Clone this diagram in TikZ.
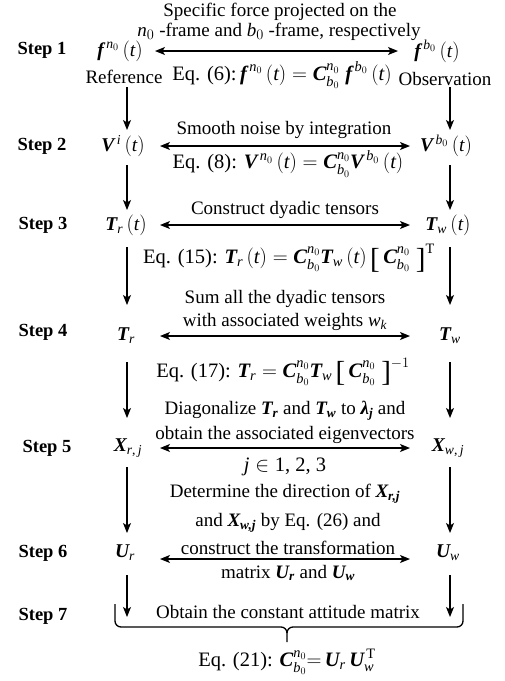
\documentclass[tikz,border=0pt]{standalone}
\usepackage{amsmath}
\usepackage{fontspec}
\setmainfont{Liberation Serif}
\DeclareSymbolFont{letters}{TU}{\rmdefault}{m}{it}
\usetikzlibrary{arrows.meta,calc}
\newcommand{\bv}[1]{\text{\normalfont\bfseries\itshape #1}}
\newcommand{\lbrk}{\mathopen{\raisebox{-0.24em}{\fontsize{29}{29}\selectfont[}}}
\newcommand{\rbrk}{\mathclose{\raisebox{-0.24em}{\fontsize{29}{29}\selectfont]}}}
\begin{document}
\begin{tikzpicture}[x=1pt,y=-1pt,
  every node/.style={inner sep=0pt,outer sep=0pt},
  font=\fontsize{19}{22}\selectfont,
  steplbl/.style={font=\fontsize{18.5}{21}\selectfont\bfseries},
  eqn/.style={font=\fontsize{19.5}{22}\selectfont},
  eqb/.style={font=\fontsize{20.5}{22}\selectfont},
  arr/.style={-{Stealth[length=10pt,width=8pt,inset=2.5pt]},line width=1.3pt},
  dbl/.style={{Stealth[length=10pt,width=8pt,inset=2.5pt]}-{Stealth[length=10pt,width=8pt,inset=2.5pt]},line width=1.3pt},
  lnk/.style={line width=1.3pt}]
\useasboundingbox (0,0) rectangle (505,681);
\coordinate (cl) at (127,0);
\coordinate (cr) at (450,0);
\coordinate (hl) at (160,0);
\coordinate (hr) at (410,0);
\coordinate (hl1) at (155,0);
\coordinate (hr1) at (398,0);
% step labels
\node[steplbl] (s1) at (42,50) {Step 1};
\node[steplbl] (s2) at (42,146) {Step 2};
\node[steplbl] (s3) at (43,225) {Step 3};
\node[steplbl] (s4) at (43,332) {Step 4};
\node[steplbl] (s5) at (47,448) {Step 5};
\node[steplbl] (s6) at (43,553) {Step 6};
\node[steplbl] (s7) at (43,616) {Step 7};
% row 1
\node (t1a) at (280,12) {Specific force projected on the};
\node (t1b) at (279,32) {$n_0$ -frame and $b_0$ -frame, respectively};
\node[eqn] (L1) at (120,51) {$\bv{f}^{\,n_0}\,(t)$};
\node[eqn] (R1) at (437,51) {$\bv{f}^{\,b_0}\,(t)$};
\node (L1r) at (124,77) {Reference};
\node (R1r) at (445,79) {Observation};
\node[eqb] (e1) at (282,75) {Eq. (6):\,$\bv{f}^{\,n_0}\,(t) = \bv{C}^{n_0}_{b_0}\;\bv{f}^{\,b_0}\,(t)$};
\draw[dbl] (L1.center -| hl1) -- (R1.center -| hr1);
% row 2
\node (t2) at (284,130) {Smooth noise by integration};
\node[eqn] (L2) at (123,146) {$\bv{V}^{\,i}\,(t)$};
\node[eqn] (R2) at (446,146) {$\bv{V}^{\,b_0}\,(t)$};
\node[eqb] (e2) at (288,164) {Eq. (8): $\bv{V}^{\,n_0}\,(t) = \bv{C}^{n_0}_{b_0}\bv{V}^{\,b_0}\,(t)$};
\draw[dbl] (L2.center -| hl) -- (R2.center -| hr);
% row 3
\node (t3) at (285,210) {Construct dyadic tensors};
\node[eqn] (L3) at (126,225) {$\bv{T}_{r}\,(t)$};
\node[eqn] (R3) at (448,225) {$\bv{T}_{w}\,(t)$};
\node[eqb] (e3) at (289,258) {Eq. (15): $\bv{T}_{r}\,(t) = \bv{C}^{n_0}_{b_0}\bv{T}_{w}\,(t)\,\lbrk\,\bv{C}^{n_0}_{b_0}\;\rbrk^{\text{T}}$};
\draw[dbl] (L3.center -| hl) -- (R3.center -| hr);
% row 4
\node (t4a) at (285,299) {Sum all the dyadic tensors};
\node (t4b) at (285,322) {with associated weights $w_k$};
\node[eqn] (L4) at (126,336) {$\bv{T}_{r}$};
\node[eqn] (R4) at (450,336) {$\bv{T}_{w}$};
\node[eqb] (e4) at (283,372) {Eq. (17): $\bv{T}_{r} = \bv{C}^{n_0}_{b_0}\bv{T}_{w}\,\lbrk\,\bv{C}^{n_0}_{b_0}\;\rbrk^{-1}$};
\draw[dbl] (L4.center -| hl) -- (R4.center -| hr);
% row 5
\node (t5a) at (285,411) {Diagonalize $\bv{T}_{\bv{r}}$ and $\bv{T}_{\bv{w}}$ to $\bv{λ}_{\bv{j}}$ and};
\node (t5b) at (285,435) {obtain the associated eigenvectors};
\node[eqn] (L5) at (128,448) {$\bv{X}_{r\text{,}\,j}$};
\node[eqn] (R5) at (448,448) {$\bv{X}_{w\text{,}\,j}$};
\node[eqb] (e5) at (285,467) {$j\in\text{1, 2, 3}$};
\draw[dbl] (L5.center -| hl) -- (R5.center -| hr);
% row 6
\node (t6a) at (285,494) {Determine the direction of $\bv{X}_{\bv{r,j}}$};
\node (t6b) at (288,523) {and $\bv{X}_{\bv{w,j}}$ by Eq. (26) and};
\node (t6c) at (288,548) {construct the transformation};
\node (t6d) at (288,573) {matrix $\bv{U}_{\bv{r}}$ and $\bv{U}_{\bv{w}}$};
\node[eqn] (L6) at (125,553) {$\bv{U}_{r}$};
\node[eqn] (R6) at (448,553) {$\bv{U}_{w}$};
\draw[dbl] ($(L6.center -| hl)+(0,6)$) -- ($(R6.center -| hr)+(0,6)$);
% row 7
\node (t7) at (288,612) {Obtain the constant attitude matrix};
\coordinate (bl) at (115,604);
\coordinate (br) at (463,604);
\coordinate (bm) at (287,642);
\coordinate (bc) at (287,633);
\draw[lnk,line join=round] (bl) -- (115,621) to[out=-90,in=180] (121,627) -- (281,627) to[out=0,in=90] (bc) -- (bm);
\draw[lnk,line join=round] (bc) to[out=90,in=180] (293,627) -- (457,627) to[out=0,in=-90] (463,621) -- (br);
\node[eqb] (e7) at (287,662) {Eq. (21): $\bv{C}^{n_0}_{b_0}{=}\,\bv{U}_{r}\,\bv{U}_{w}^{\,\text{T}}$};
% vertical arrows
\draw[arr,shorten <=10pt,shorten >=16pt] (L1r.center -| cl) -- (L2.center -| cl);
\draw[arr,shorten <=8pt,shorten >=16pt] (R1r.center -| cr) -- (R2.center -| cr);
\draw[arr,shorten <=19pt,shorten >=15pt] (L2.center -| cl) -- (L3.center -| cl);
\draw[arr,shorten <=19pt,shorten >=15pt] (R2.center -| cr) -- (R3.center -| cr);
\draw[arr,shorten <=22pt,shorten >=31pt] (L3.center -| cl) -- (L4.center -| cl);
\draw[arr,shorten <=22pt,shorten >=31pt] (R3.center -| cr) -- (R4.center -| cr);
\draw[arr,shorten <=26pt,shorten >=30pt] (L4.center -| cl) -- (L5.center -| cl);
\draw[arr,shorten <=26pt,shorten >=30pt] (R4.center -| cr) -- (R5.center -| cr);
\draw[arr,shorten <=19pt,shorten >=20pt] (L5.center -| cl) -- (L6.center -| cl);
\draw[arr,shorten <=19pt,shorten >=20pt] (R5.center -| cr) -- (R6.center -| cr);
\coordinate (el) at (127,617);
\coordinate (er) at (450,617);
\draw[arr,shorten <=22pt] (L6.center -| cl) -- (el);
\draw[arr,shorten <=22pt] (R6.center -| cr) -- (er);
\end{tikzpicture}
\end{document}
